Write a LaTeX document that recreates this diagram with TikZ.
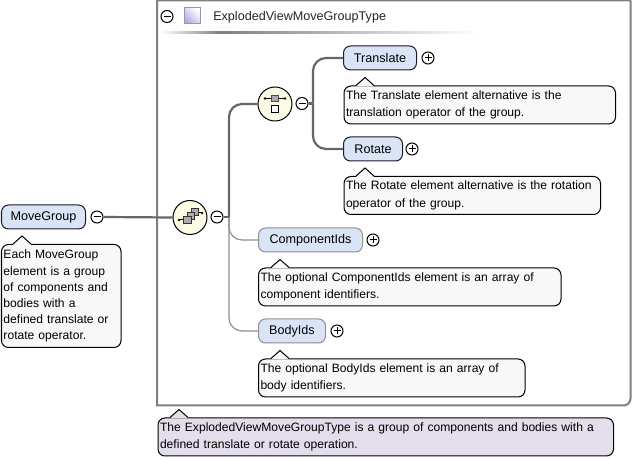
\documentclass[tikz,border=0pt]{standalone}
\usepackage{fontspec}
\setmainfont{Liberation Sans}
\usetikzlibrary{calc}
\definecolor{elemfill}{HTML}{D9E5F7}
\definecolor{notefill}{HTML}{F8F8F8}
\definecolor{typefill}{HTML}{E3DDEC}
\definecolor{compfill}{HTML}{FCFBE4}
\definecolor{edgedark}{HTML}{1A1A2A}
\definecolor{busdark}{HTML}{666666}
\definecolor{busgray}{HTML}{909090}
\definecolor{framegray}{HTML}{808080}
\definecolor{iconfill}{HTML}{B8A8DC}
\definecolor{iconedge}{HTML}{9C90C0}
\newcommand\px[1]{(#1)*0.75pt}
\tikzset{
  x=0.75pt,y=-0.75pt,
  every node/.style={font=\fontsize{9.08}{12}\selectfont},
  labeltext/.style={font=\fontsize{9.45}{12}\selectfont},
  elembox/.style={labeltext,draw=edgedark,fill=elemfill,rounded corners=\px{7},line width=\px{1},minimum height=\px{24},inner sep=0pt,anchor=west,text=black},
  optbox/.style={elembox,draw=busgray},
  notebox/.style={draw=black,fill=notefill,rounded corners=\px{7},line width=\px{1},inner ysep=0pt,inner xsep=\px{2},anchor=north west,align=left,text=black},
  typebox/.style={notebox,fill=typefill},
  compositor/.style={circle,draw=black,fill=compfill,line width=\px{1},minimum size=\px{34},inner sep=0pt},
  toggle/.style={circle,draw=black,fill=white,line width=\px{1},minimum size=\px{12},inner sep=0pt},
  busmain/.style={draw=busdark,line width=\px{2.2},rounded corners=\px{13}},
  busthin/.style={draw=busgray,line width=\px{1.2},rounded corners=\px{13}},
  glyph/.style={draw=black,line width=\px{1}},
}
% name, x, y
\newcommand\minustoggle[3]{\node[toggle] (#1) at (#2,#3) {};
  \draw[glyph] ($(#1)+(-3.5,0)$) -- ($(#1)+(3.5,0)$);}
\newcommand\plustoggle[3]{\node[toggle] (#1) at (#2,#3) {};
  \draw[glyph] ($(#1)+(-3.5,0)$) -- ($(#1)+(3.5,0)$) ($(#1)+(0,-3.5)$) -- ($(#1)+(0,3.5)$);}
% style, name, x, top, width, height, apex x, fill, text
\newcommand\callout[9]{%
  \node[#1,minimum width=\px{#5},minimum height=\px{#6},text width=\px{#5-4}] (#2) at (#3,#4) {\vspace*{1.1pt}#9};
  \fill[#8] (#7-9,#4+0.8) -- (#7,#4-8) -- (#7+9,#4+0.8) -- cycle;
  \draw[black,line width=\px{1}] (#7-9,#4) -- (#7,#4-8) -- (#7+9,#4);}
\begin{document}
\begin{tikzpicture}
\useasboundingbox (0,0) rectangle (632,459);
\fill[white] (0,0) rectangle (632,459);
% type frame
\draw[draw=framegray,line width=\px{2}] (630.5,0.5) -- (157,0.5) -- (157,405.5) -- (622,405.5) [rounded corners=\px{7}] -- (630.5,405.5) -- (630.5,0.5);
\minustoggle{typem}{167}{16.5}
\shade[left color=white,right color=framegray,draw=none] (160,32) rectangle (220,34);
\shade[left color=framegray,right color=white,draw=none] (220,32) rectangle (480,34);
\shade[left color=white,right color=iconfill,shading angle=-45,draw=none] (184,8) rectangle (200,24);
\draw[draw=iconedge,line width=\px{1}] (184,8) rectangle (200,24);
\node[labeltext,anchor=west,inner sep=0pt,text=black!85] (typename) at (213,17) {ExplodedViewMoveGroupType};
% elements
\node[elembox,minimum width=\px{84}] (movegroup) at (1,217) {MoveGroup};
\minustoggle{movem}{97}{217}
\node[compositor] (seq) at (190,217.5) {};
\minustoggle{seqm}{217}{217}
\node[compositor] (choice) at (275,104) {};
\minustoggle{choicem}{302}{103.5}
\node[elembox,minimum width=\px{73}] (translate) at (343,58) {Translate};
\plustoggle{transp}{428}{58}
\node[elembox,minimum width=\px{59}] (rotate) at (343,149) {Rotate};
\plustoggle{rotp}{412}{149}
\node[optbox,minimum width=\px{104}] (compids) at (258,240) {ComponentIds};
\plustoggle{compp}{373}{240}
\node[optbox,minimum width=\px{67}] (bodyids) at (258,331) {BodyIds};
\plustoggle{bodyp}{337}{331}
% connectors
\coordinate (busA) at (229,217);
\coordinate (busB) at (313,103.5);
\draw[busthin] (busA) |- (compids.west);
\draw[busthin] (busA) |- (bodyids.west);
\draw[busmain] (movem.east) -- (seq.west);
\draw[busmain] (seqm.east) -- (busA);
\draw[busmain] (busA) |- (choice.west);
\draw[busmain] (choicem.east) -- (busB);
\draw[busmain] (busB) |- (translate.west);
\draw[busmain] (busB) |- (rotate.west);
% sequence icon
\draw[glyph] (179,220) -- (184,220);
\fill[black] (179,220) circle (1.4);
\draw[glyph] (196,213) -- (202,213);
\fill[black] (202,213) circle (1.4);
\foreach \d in {7.5,3.75,0}
  \draw[glyph,draw=black!80,fill=gray!65] (183.5+\d,216.5-\d) rectangle ++(7.5,7);
% choice icon
\draw[glyph] (265,98.5) -- (285,98.5);
\fill[black] (265,98.5) circle (1.4);
\fill[black] (285,98.5) circle (1.4);
\draw[glyph,fill=gray!65,draw=black!70] (271,95.5) rectangle (278,102);
\draw[glyph,fill=white] (271,106) rectangle (278,112.5);
% notes
\callout{notebox}{movenote}{1}{244}{119.5}{103}{22}{notefill}{Each MoveGroup\\element is a group\\of components and\\bodies with a\\defined translate or\\rotate operator.}
\callout{notebox}{transnote}{343.5}{85.5}{271.5}{38}{365}{notefill}{The Translate element alternative is the\\translation operator of the group.}
\callout{notebox}{rotnote}{343.5}{176}{256.5}{38}{365}{notefill}{The Rotate element alternative is the rotation\\operator of the group.}
\callout{notebox}{compnote}{258}{267.5}{302.5}{38}{280}{notefill}{The optional ComponentIds element is an array of\\component identifiers.}
\callout{notebox}{bodynote}{258}{358.5}{266.5}{38}{280}{notefill}{The optional BodyIds element is an array of\\body identifiers.}
\callout{typebox}{typenote}{157.5}{417.5}{455.5}{38}{179}{typefill}{The ExplodedViewMoveGroupType is a group of components and bodies with a\\defined translate or rotate operation.}
\end{tikzpicture}
\end{document}
